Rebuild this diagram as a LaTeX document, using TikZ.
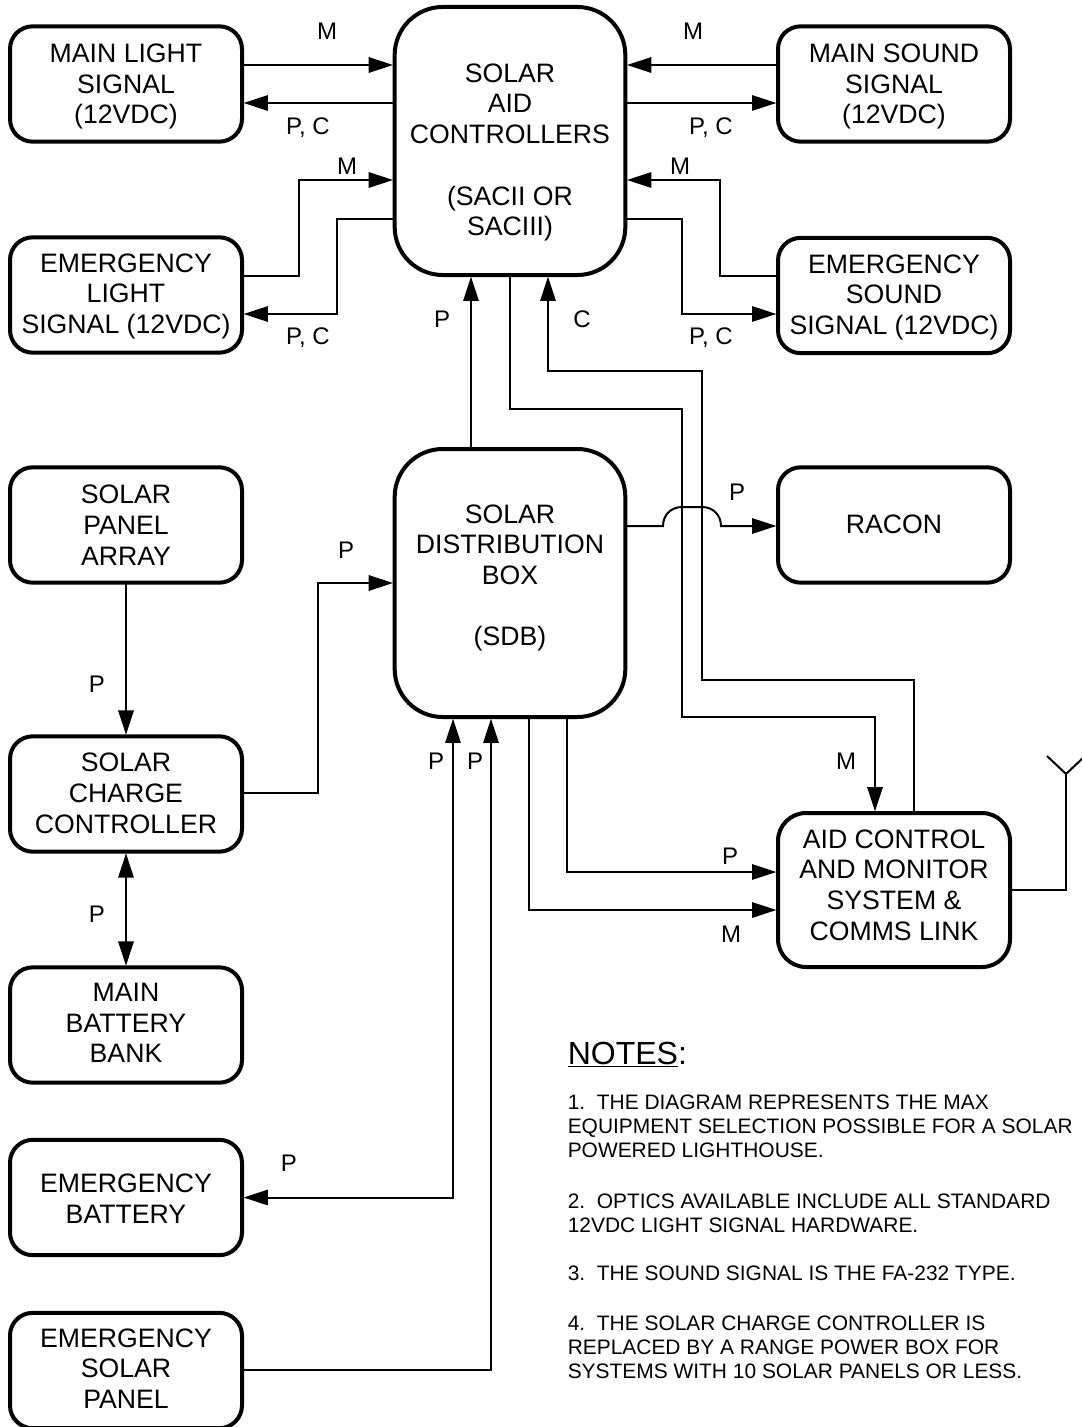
\documentclass[tikz,border=0pt]{standalone}
\usepackage{fontspec}
\setmainfont{Liberation Sans}
\usetikzlibrary{arrows.meta}
\newcommand\toppad[1]{\rule{0pt}{#1}}
\newcommand\botpad[1]{\rule[-#1]{0pt}{1pt}}
\tikzset{
  x=0.75pt,y=-0.75pt,
  boxbase/.style={draw=black,line width=3pt,align=center,inner sep=0pt,outer sep=0pt,font=\fontsize{20pt}{23.05pt}\selectfont},
  smallbox/.style={boxbase,rounded corners=17pt,minimum width=174pt,minimum height=86.5pt},
  bigbox/.style={boxbase,rounded corners=36pt,minimum width=173pt,minimum height=201pt},
  aidbox/.style={boxbase,rounded corners=21pt,minimum width=174pt,minimum height=115.5pt},
  wire/.style={line width=1.5pt,line join=miter},
  arr/.style={wire,shorten >=1.2pt,-{Triangle[length=18.25pt,width=11.5pt]}},
  darr/.style={wire,shorten >=1.2pt,shorten <=1.2pt,{Triangle[length=18.25pt,width=11.5pt]}-{Triangle[length=18.25pt,width=11.5pt]}},
  lab/.style={font=\fontsize{18pt}{21pt}\selectfont,inner sep=0pt},
  note/.style={anchor=north west,align=left,inner sep=0pt,font=\fontsize{15.7pt}{18.2pt}\selectfont},
}
\begin{document}
\begin{tikzpicture}
\useasboundingbox (0,0) rectangle (1081,1427);
% boxes
\node[smallbox] (ml) at (126,84) {\toppad{18pt}MAIN LIGHT\\SIGNAL\\(12VDC)};
\node[smallbox] (el) at (126,295) {\toppad{16pt}EMERGENCY\\LIGHT\\SIGNAL (12VDC)};
\node[smallbox] (spa) at (126,525) {SOLAR\\PANEL\\ARRAY};
\node[smallbox] (scc) at (126,794) {SOLAR\\CHARGE\\CONTROLLER\botpad{1.5pt}};
\node[smallbox] (mbb) at (126,1025) {MAIN\\BATTERY\\BANK\botpad{3pt}};
\node[smallbox] (ebt) at (126,1197.5) {\toppad{16pt}EMERGENCY\\BATTERY};
\node[smallbox] (esp) at (126,1370.5) {EMERGENCY\\SOLAR\\PANEL\botpad{3pt}};
\node[smallbox] (ms) at (894,84) {\toppad{18pt}MAIN SOUND\\SIGNAL\\(12VDC)};
\node[smallbox] (es) at (894,295.5) {\toppad{16.5pt}EMERGENCY\\SOUND\\SIGNAL (12VDC)};
\node[smallbox] (rac) at (894,525) {RACON\botpad{1.5pt}};
\node[aidbox] (aid) at (894,890) {AID CONTROL\\AND MONITOR\\SYSTEM \&\\COMMS LINK\botpad{7.8pt}};
\node[bigbox] (sac) at (510,141) {\toppad{31pt}SOLAR\\AID\\CONTROLLERS\\[23.05pt](SACII OR\\SACIII)};
\node[bigbox] (sdb) at (510,583) {SOLAR\\DISTRIBUTION\\BOX\\[23.05pt](SDB)\botpad{11.7pt}};
% top-left and top-right links
\draw[arr] (ml.east |- 0,65) -- (sac.west |- 0,65);
\draw[arr] (sac.west |- 0,103) -- (ml.east |- 0,103);
\draw[arr] (ms.west |- 0,65) -- (sac.east |- 0,65);
\draw[arr] (sac.east |- 0,103) -- (ms.west |- 0,103);
\draw[arr] (el.east |- 0,276) -- (299,276) -- (299,180) -- (sac.west |- 0,180);
\draw[arr] (sac.west |- 0,219) -- (337,219) -- (337,314) -- (el.east |- 0,314);
\draw[arr] (es.west |- 0,276) -- (720,276) -- (720,180) -- (sac.east |- 0,180);
\draw[arr] (sac.east |- 0,219) -- (682,219) -- (682,314) -- (es.west |- 0,314);
% centre links
\draw[arr] (sdb.north -| 471,0) -- (sac.south -| 471,0);
\draw[arr] (aid.north -| 914,0) -- (914,680) -- (702,680) -- (702,371) -- (548,371) -- (sac.south -| 548,0);
\draw[arr] (sac.south -| 510,0) -- (510,409) -- (682,409) -- (682,717) -- (875,717) -- (aid.north -| 875,0);
\draw[arr] (sdb.east |- 0,526) -- (663,526) .. controls (663,515) and (671,507) .. (682,507) -- (702,507) .. controls (713,507) and (721,515) .. (721,526) -- (rac.west |- 0,526);
% left column
\draw[arr] (scc.east |- 0,793) -- (318,793) -- (318,583) -- (sdb.west |- 0,583);
\draw[arr] (spa) -- (scc);
\draw[darr] (scc) -- (mbb);
\draw[darr] (ebt.east) -- (453,1197.5) -- (sdb.south -| 453,0);
\draw[arr] (esp.east |- 0,1370) -- (491,1370) -- (sdb.south -| 491,0);
% SDB to AID
\draw[arr] (sdb.south -| 567,0) -- (567,872) -- (aid.west |- 0,872);
\draw[arr] (sdb.south -| 529,0) -- (529,910) -- (aid.west |- 0,910);
% antenna
\coordinate (ant) at (1066,774);
\coordinate (antl) at (1047,756);
\coordinate (antr) at (1085,756);
\draw[wire] (aid.east |- 0,890) -- (1066,890) -- (ant);
\draw[wire] (antl) -- (ant) -- (antr);
% labels
\node[lab] (l1) at (327,31) {M};
\node[lab] (l2) at (693,31) {M};
\node[lab] (l3) at (308,128) {P, C};
\node[lab] (l4) at (711,128) {P, C};
\node[lab] (l5) at (347,166) {M};
\node[lab] (l6) at (680,166) {M};
\node[lab] (l7) at (308,338) {P, C};
\node[lab] (l8) at (711,338) {P, C};
\node[lab] (l9) at (442,319) {P};
\node[lab] (l10) at (582,319) {C};
\node[lab] (l11) at (737,492) {P};
\node[lab] (l12) at (346,550) {P};
\node[lab] (l13) at (97,684) {P};
\node[lab] (l14) at (436,761) {P};
\node[lab] (l15) at (475,761) {P};
\node[lab] (l16) at (846,761) {M};
\node[lab] (l17) at (730,856) {P};
\node[lab] (l18) at (731,934) {M};
\node[lab] (l19) at (97,914) {P};
\node[lab] (l20) at (289,1163) {P};
% notes
\node[anchor=base west,inner sep=0pt,font=\fontsize{24pt}{27pt}\selectfont] (nh) at (567.5,1064) {\underline{NOTES}:};
\node[note] (n1) at (567.5,1094.5) {1.\ \ THE DIAGRAM REPRESENTS THE MAX\\EQUIPMENT SELECTION POSSIBLE FOR A SOLAR\\POWERED LIGHTHOUSE.};
\node[note] (n2) at (567.5,1193.5) {2.\ \ OPTICS AVAILABLE INCLUDE ALL STANDARD\\12VDC LIGHT SIGNAL HARDWARE.};
\node[note] (n3) at (567.5,1265.5) {3.\ \ THE SOUND SIGNAL IS THE FA-232 TYPE.};
\node[note] (n4) at (567.5,1315.5) {4.\ \ THE SOLAR CHARGE CONTROLLER IS\\REPLACED BY A RANGE POWER BOX FOR\\SYSTEMS WITH 10 SOLAR PANELS OR LESS.};
\end{tikzpicture}
\end{document}
